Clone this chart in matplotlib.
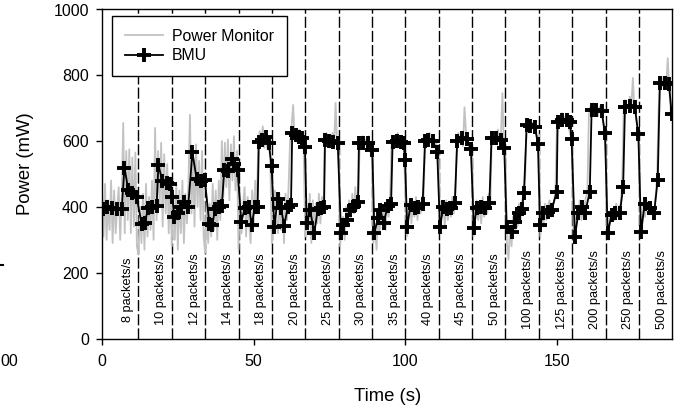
import matplotlib
matplotlib.use("Agg")
import matplotlib.pyplot as plt
import numpy as np
from matplotlib.lines import Line2D

plt.rcParams["font.family"] = ["Liberation Sans", "DejaVu Sans"]

# time (s) where each packet-rate phase ends
segment_ends = [12, 23, 34, 45, 56, 67, 78, 89, 100, 111, 122, 133, 144, 155, 166, 177, 188]
rate_labels = ["8", "10", "12", "14", "18", "20", "25", "30", "35", "40",
               "45", "50", "100", "125", "200", "250", "500"]

# power monitor trace, one sample every 0.5 s starting at 0 s
gray_step = 0.5
gray_power = [
    # 0-12
    440, 310, 470, 300, 420, 330, 480, 290, 450, 320, 400, 460,
    300, 430, 655, 320, 570, 360, 575, 320, 550, 340, 565, 280,
    # 12-23
    255, 400, 290, 440, 270, 470, 310, 430, 330, 480, 300,
    640, 360, 570, 400, 595, 340, 560, 380, 530, 320, 490,
    # 23-34
    280, 440, 300, 470, 270, 450, 320, 480, 290, 440, 350,
    470, 680, 380, 570, 340, 590, 400, 540, 360, 570, 310,
    # 34-45
    260, 430, 290, 410, 310, 470, 330, 450, 300, 480, 360,
    600, 430, 595, 460, 605, 420, 590, 480, 615, 450, 570,
    # 45-56
    270, 440, 320, 400, 460, 310, 430, 350, 290, 450, 340,
    480, 380, 590, 630, 590, 645, 580, 615, 575, 605, 530,
    # 56-67
    290, 370, 450, 360, 320, 440, 330, 410, 290, 440, 360,
    460, 600, 645, 710, 605, 630, 595, 635, 585, 615, 565,
    # 67-78
    310, 400, 330, 440, 290, 420, 330, 410, 350, 440, 350,
    430, 380, 605, 625, 585, 615, 595, 625, 585, 716, 585,
    # 78-89
    590, 280, 340, 370, 300, 400, 340, 420, 360, 440, 380,
    460, 390, 440, 605, 575, 615, 585, 605, 575, 615, 565,
    # 89-100
    560, 290, 350, 270, 380, 320, 410, 350, 390, 330, 420,
    370, 440, 605, 585, 615, 595, 625, 585, 615, 595, 575,
    # 100-111
    450, 310, 390, 420, 350, 410, 370, 430, 360, 410, 380,
    430, 420, 605, 615, 585, 625, 595, 615, 585, 605, 575,
    # 111-122
    560, 320, 380, 410, 340, 420, 360, 410, 370, 430, 380,
    440, 600, 625, 595, 615, 585, 703, 625, 595, 595, 575,
    # 122-133
    560, 310, 390, 420, 360, 410, 350, 430, 370, 410, 380,
    440, 400, 615, 625, 595, 615, 635, 595, 615, 746, 565,
    # 133-144
    560, 290, 240, 340, 280, 370, 320, 390, 340, 410, 360,
    420, 440, 490, 655, 635, 665, 635, 655, 625, 645, 595,
    # 144-155
    620, 310, 400, 340, 410, 360, 400, 420, 370, 410, 410,
    460, 660, 675, 645, 685, 655, 675, 645, 665, 635, 615,
    # 155-166
    600, 290, 340, 380, 380, 420, 360, 390, 390, 430, 440,
    680, 705, 685, 715, 685, 705, 675, 705, 685, 675, 635,
    # 166-177
    620, 320, 300, 380, 380, 390, 360, 410, 370, 400, 410,
    480, 700, 725, 705, 700, 735, 705, 792, 695, 685, 625,
    # 177-188
    620, 330, 320, 410, 370, 420, 380, 390, 390, 380, 380,
    430, 500, 700, 785, 765, 795, 775, 770, 852, 755, 690,
]

bmu_time = [
    0.2, 1.5, 3.2, 4.8, 6.5, 7.4, 8.7, 10.0, 11.4,
    13.1, 14.2, 15.1, 16.6, 18.0, 18.6, 19.9, 21.3, 22.4,
    23.2, 23.8, 24.9, 26.0, 27.1, 28.4, 29.8, 31.2, 32.6, 33.9,
    35.4, 36.4, 37.2, 38.6, 39.5, 40.3, 41.6, 42.7, 43.6, 44.7,
    45.9, 47.1, 48.5, 49.3, 50.4, 51.3, 51.7, 52.8, 54.0, 55.0, 55.9,
    56.8, 57.9, 59.0, 60.1, 61.2, 62.3, 62.7, 63.8, 64.9, 66.0, 66.9,
    67.5, 68.6, 70.0, 71.1, 72.2, 73.2, 73.5, 74.8, 76.2, 77.7,
    78.8, 79.5, 80.6, 81.7, 83.2, 84.4, 84.7, 86.1, 87.6, 89.1,
    89.8, 91.0, 91.8, 92.8, 94.2, 95.3, 95.8, 97.1, 98.5, 99.5, 99.9,
    100.6, 101.7, 103.2, 104.3, 105.7, 106.5, 107.6, 109.0, 110.5,
    111.4, 112.5, 113.6, 114.9, 116.3, 117.1, 118.6, 120.2, 121.6,
    122.6, 123.5, 124.8, 126.2, 127.7, 128.4, 129.9, 131.4, 132.6,
    133.4, 135.0, 136.1, 137.5, 138.4, 139.1, 140.0, 141.2, 142.7, 143.7,
    144.4, 145.5, 146.9, 148.2, 149.9, 150.2, 151.5, 153.2, 154.3, 154.8,
    155.9, 157.0, 158.1, 159.2, 160.8, 161.4, 163.0, 164.7, 165.8,
    166.7, 168.0, 169.1, 170.7, 171.8, 172.4, 174.0, 175.6, 176.8,
    177.7, 178.9, 180.6, 182.0, 183.2, 183.9, 185.6, 186.9, 187.8,
]
bmu_power = [
    393, 399, 396, 393, 393, 519, 451, 443, 431,
    347, 350, 396, 399, 403, 527, 479, 472, 470,
    429, 370, 380, 400, 416, 399, 566, 484, 479, 482,
    347, 345, 393, 399, 403, 512, 510, 545, 530, 512,
    355, 396, 399, 345, 399, 399, 598, 603, 613, 593, 524,
    340, 423, 396, 342, 399, 406, 624, 619, 613, 608, 583,
    350, 391, 320, 393, 396, 399, 603, 601, 598, 595,
    320, 345, 360, 391, 403, 416, 593, 595, 593, 573,
    322, 365, 392, 350, 403, 410, 598, 600, 598, 595, 543,
    338, 406, 396, 399, 409, 601, 603, 601, 568,
    338, 399, 393, 396, 411, 600, 608, 605, 575,
    335, 396, 399, 396, 411, 610, 608, 603, 580,
    340, 325, 355, 380, 393, 441, 649, 646, 644, 592,
    345, 380, 385, 391, 446, 659, 664, 664, 659, 605,
    309, 380, 400, 380, 446, 694, 694, 691, 624,
    322, 375, 380, 380, 461, 705, 706, 705, 622,
    325, 409, 396, 382, 482, 776, 776, 774, 682,
]

gray_time = np.arange(len(gray_power)) * gray_step

fig = plt.figure(figsize=(6.89, 4.11), dpi=100)
ax = fig.add_axes([102 / 689, 1 - 338.5 / 411, 570.3 / 689, 329 / 411])

for end in segment_ends[:-1]:
    ax.axvline(end, color="black", lw=1.0, ls=(0, (8, 2.2)), zorder=1)

ax.plot(gray_time, gray_power, color="#c2c2c2", lw=1.3, zorder=2,
        label="Power Monitor")
ax.plot(bmu_time, bmu_power, color="black", lw=1.3, marker="+",
        markersize=10, markeredgewidth=2.8, zorder=3, label="BMU")

for end, rate in zip(segment_ends, rate_labels):
    ax.text(end - 3.5, 149, f"{rate} packets/s", rotation=90,
            ha="center", va="center", fontsize=9.2)

ax.set_xlim(0, 188)
ax.set_ylim(0, 1000)
ax.set_xticks([0, 50, 100, 150])
ax.set_yticks(np.arange(0, 1001, 200))
ax.tick_params(direction="out", length=4, width=1, labelsize=11.5)
ax.tick_params(axis="x", pad=7)
ax.tick_params(axis="y", pad=5.5)
for sp in ax.spines.values():
    sp.set_linewidth(1.0)

leg = ax.legend(loc="upper left", bbox_to_anchor=(0.0175, 0.980),
                borderaxespad=0, fontsize=11.4, fancybox=False,
                edgecolor="black", framealpha=1, borderpad=0.8,
                handlelength=2.4, handletextpad=0.6, labelspacing=0.28)
leg.get_frame().set_linewidth(1.0)

fig.text(388 / 689, 1 - 396.7 / 411, "Time (s)", ha="center", va="center",
         fontsize=13.3)
fig.text(25 / 689, 1 - 164 / 411, "Power (mW)", ha="center", va="center",
         rotation=90, fontsize=13.3)

# bits of the neighbouring panel that show at the left edge
fig.text(0, 1 - 361.7 / 411, "00", ha="left", va="center", fontsize=11.5)
fig.add_artist(Line2D([0, 3 / 689], [1 - 265 / 411, 1 - 265 / 411],
                      transform=fig.transFigure, color="black", lw=1.5))

fig.savefig("out.png", dpi=100)
